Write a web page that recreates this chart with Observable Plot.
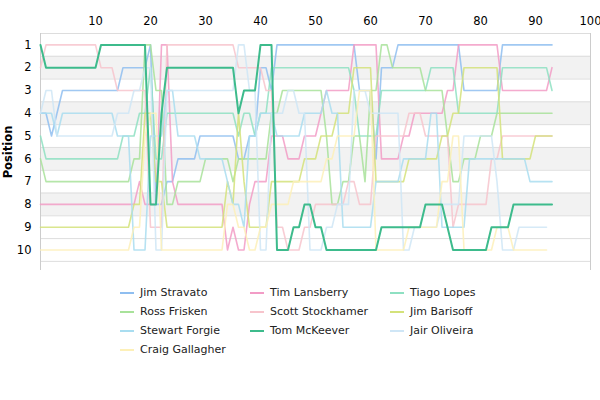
<!DOCTYPE html>
<html><head><meta charset="utf-8">
<script src="https://cdn.jsdelivr.net/npm/d3@7"></script>
<script src="https://cdn.jsdelivr.net/npm/@observablehq/plot@0.6"></script>
<style>
body{margin:0;font-family:"DejaVu Sans",sans-serif;background:#fff}
#legend{display:grid;grid-template-columns:130px 140px 110px;justify-content:center;row-gap:6px;font-size:11px;color:#222;margin-left:20px;margin-top:4px}
#legend span.sw{display:inline-block;width:14px;height:2px;vertical-align:middle;margin-right:6px}
</style></head><body>
<div id="chart"></div><div id="legend"></div>
<script>
const drivers = ["Jim Stravato","Tim Lansberry","Tiago Lopes","Ross Frisken","Scott Stockhamer","Jim Barisoff","Stewart Forgie","Tom McKeever","Jair Oliveira","Craig Gallagher"];
const colors = ["#8fbef0","#f29cc6","#8ee0c2","#a8e29a","#f7c4cc","#d4e27a","#a9ddf0","#3dbb8c","#cfe6f6","#fdf0b8"];
const lastLap = 93;
const Stravato = [[0,4],[2,5],[3,4],[4,3],[15,2],[20,1],[21,8],[23,7],[25,6],[29,5],[36,6],[38,5],[40,2],[42,3],[43,1],[58,3],[61,6],[62,2],[65,1],[77,3],[84,1]];
const Lansberry = [[0,8],[18,7],[19,8],[22,1],[24,7],[25,8],[34,10],[35,9],[36,10],[38,8],[39,7],[42,5],[45,6],[48,5],[51,4],[52,3],[57,1],[62,6],[66,5],[68,4],[74,3],[76,1],[84,3],[93,2]];
const Lopes = [[0,5],[1,6],[15,5],[18,4],[20,2],[21,6],[23,4],[36,5],[37,4],[39,5],[40,4],[42,2],[57,3],[58,5],[62,3],[71,2],[76,4],[84,2],[93,3]];
const Frisken = [[0,6],[1,7],[17,6],[19,1],[21,3],[23,8],[25,7],[30,6],[35,7],[36,6],[42,4],[44,3],[52,5],[53,8],[55,7],[57,5],[59,7],[60,3],[62,1],[64,2],[70,3],[74,5],[75,7],[77,6],[80,5],[83,4]];
const Stockhamer = [[0,2],[1,1],[11,2],[14,3],[20,9],[23,1],[36,2],[41,3],[43,9],[45,10],[48,9],[50,8],[56,7],[58,8],[61,5],[67,4],[70,5],[75,9],[76,8],[82,6],[84,5]];
const Barisoff = [[0,9],[17,8],[19,4],[21,7],[23,9],[34,7],[35,8],[36,4],[37,7],[38,9],[42,7],[48,6],[51,5],[54,4],[57,2],[61,7],[67,6],[73,5],[75,4],[77,2],[84,6],[90,5]];
const Forgie = [[0,4],[3,5],[4,4],[14,5],[17,10],[20,5],[23,3],[25,5],[29,6],[34,7],[35,8],[37,9],[38,5],[40,4],[43,5],[48,4],[52,3],[53,4],[55,9],[61,7],[66,6],[71,4],[73,9],[78,6],[89,7]];
const McKeever = [[0,1],[1,2],[11,1],[20,8],[22,4],[23,2],[36,4],[37,3],[40,1],[43,10],[46,9],[48,8],[50,9],[52,10],[62,9],[70,8],[74,9],[75,10],[82,9],[86,8]];
const Oliveira = [[0,4],[1,3],[3,5],[14,4],[17,3],[19,2],[21,10],[23,3],[36,1],[38,3],[40,10],[42,4],[45,3],[47,4],[49,10],[52,9],[54,8],[57,3],[60,4],[66,10],[68,9],[73,8],[77,5],[83,7],[84,10],[87,9]];
const Gallagher = [[0,10],[17,9],[19,5],[20,4],[22,10],[34,8],[36,9],[38,10],[40,9],[42,8],[46,7],[52,6],[54,5],[58,3],[61,10],[67,9],[73,7],[75,5],[77,10],[83,9],[86,10]];
const keyframes = [Stravato,Lansberry,Lopes,Frisken,Stockhamer,Barisoff,Forgie,McKeever,Oliveira,Gallagher];
const yTicks = [1,2,3,4,5,6,7,8,9,10];
const xTicks = [10,20,30,40,50,60,70,80,90,100];

const rows = [];
drivers.forEach((d,i)=>{
  const kf = keyframes[i];
  const end = i===8||i===9 ? 92 : lastLap;
  let k=0;
  for(let lap=0;lap<=end;lap++){
    while(k+1<kf.length && kf[k+1][0]<=lap) k++;
    rows.push({driver:d,lap,pos:kf[k][1]});
  }
});
const bands = [2,4,6,8].map(p=>({y1:p-0.5,y2:p+0.5}));
const grid = d3.range(0.5,11,1);

const order = drivers.filter(d=>d!=="Tom McKeever").concat(["Tom McKeever"]);
const plot = Plot.plot({
  width:600,height:282,marginTop:33,marginBottom:12,marginLeft:40,marginRight:10,
  style:{fontFamily:"DejaVu Sans",fontSize:"11.5px"},
  x:{domain:[0,100],axis:"top",ticks:xTicks,tickSize:0,label:null},
  y:{domain:[0.5,10.9],reverse:true,ticks:yTicks,tickSize:0,label:"Position",labelAnchor:"center",labelArrow:false},
  color:{domain:drivers,range:colors},
  marks:[
    Plot.rectY(bands,{x1:0,x2:100,y1:"y1",y2:"y2",fill:"#f2f2f2"}),
    Plot.ruleY(grid,{x1:0,x2:100,stroke:"#ddd"}),
    Plot.ruleX([0,100],{stroke:"#ccc"}),
    ...order.map(d=>Plot.line(rows.filter(r=>r.driver===d),{x:"lap",y:"pos",stroke:"driver",strokeWidth:d==="Tom McKeever"?2:1.6,strokeOpacity:d==="Tom McKeever"?1:0.85}))
  ]
});
plot.querySelectorAll("[aria-label='y-axis label'] text").forEach(t=>t.setAttribute("font-weight","bold"));
document.getElementById("chart").append(plot);
const lg=document.getElementById("legend");
drivers.forEach((d,i)=>{const e=document.createElement("div");e.innerHTML=`<span class="sw" style="background:${colors[i]}"></span>${d}`;lg.append(e);});
</script></body></html>
